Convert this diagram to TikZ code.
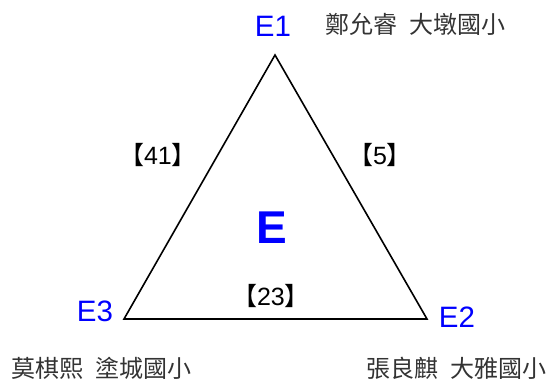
\documentclass[tikz,border=0pt]{standalone}
\usepackage{fontspec}
\setmainfont{Liberation Sans}
\newfontfamily\cjk{Noto Sans CJK TC}
\begin{document}
\begin{tikzpicture}[x=1pt,y=-1pt,
  vlabel/.style={text=blue,font=\fontsize{29.5}{32}\selectfont,inner sep=0pt},
  person/.style={text=black!80,font=\cjk\fontsize{24}{26}\selectfont,inner sep=0pt},
  cnt/.style={font=\fontsize{25}{28}\selectfont,inner sep=0pt},
  triline/.style={draw=black,line width=1.6pt,line join=miter}]
\useasboundingbox (0,0) rectangle (549,383);
\coordinate (t) at (275,55);
\coordinate (l) at (124,319);
\coordinate (r) at (427,319);
\draw[triline] (t) -- (r) -- (l) -- cycle;
\node[vlabel] (e1) at (273,26) {E1};
\node[vlabel] (e3) at (95,311) {E3};
\node[vlabel] (e2) at (457,317) {E2};
\node[text=blue,font=\bfseries\fontsize{46}{50}\selectfont,inner sep=0pt] (e) at (272,228) {E};
\node[person] (n1) at (415,24) {鄭允睿\hspace{0.5em}大墩國小};
\node[person] (n3) at (102,368) {莫棋熙\hspace{0.5em}塗城國小};
\node[person] (n2) at (456,368) {張良麒\hspace{0.5em}大雅國小};
\node[cnt] (c41) at (158,155) {{\cjk 【}41{\cjk 】}};
\node[cnt] (c5) at (380,155) {{\cjk 【}5{\cjk 】}};
\node[cnt] (c23) at (271,296) {{\cjk 【}23{\cjk 】}};
\end{tikzpicture}
\end{document}
